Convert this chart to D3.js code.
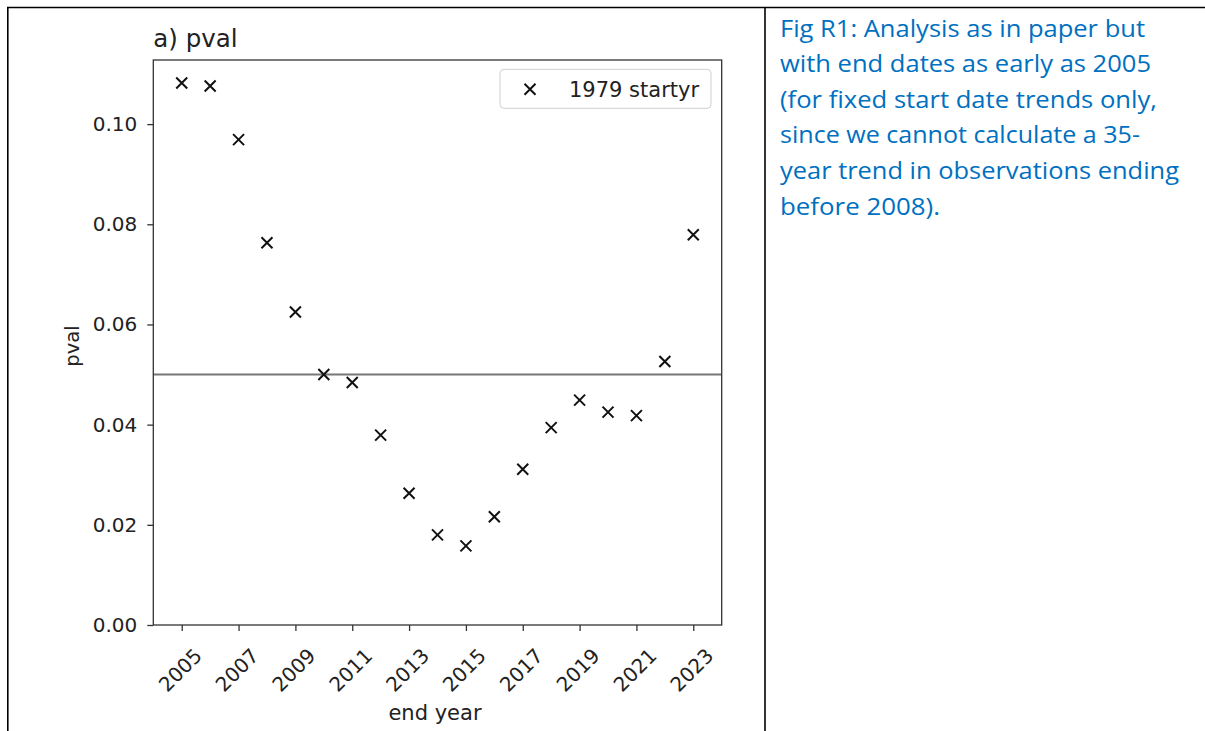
<!DOCTYPE html>
<html>
<head>
<meta charset="utf-8">
<script src="https://cdn.jsdelivr.net/npm/d3@7"></script>
<style>
  body { margin: 0; background: #fff; }
  svg { display: block; }
  .tick text { fill: #222; }
</style>
</head>
<body>
<div id="chart"></div>
<script>
// data
var endYears = [2005, 2006, 2007, 2008, 2009, 2010, 2011, 2012, 2013, 2014,
                2015, 2016, 2017, 2018, 2019, 2020, 2021, 2022, 2023];
var pvals = [0.1082, 0.1076, 0.0969, 0.0763, 0.0625, 0.0500, 0.0484, 0.0379, 0.0263, 0.0180,
             0.0158, 0.0216, 0.0311, 0.0394, 0.0449, 0.0425, 0.0418, 0.0526, 0.0779];
var xTicks = [2005, 2007, 2009, 2011, 2013, 2015, 2017, 2019, 2021, 2023];
var yTicks = [0.00, 0.02, 0.04, 0.06, 0.08, 0.10];
var threshold = 0.05;
var seriesName = "1979 startyr";
var captionLines = [
  "Fig R1: Analysis as in paper but",
  "with end dates as early as 2005",
  "(for fixed start date trends only,",
  "since we cannot calculate a 35-",
  "year trend in observations ending",
  "before 2008)."
];
var captionWidths = [365, 371, 377, 360, 399, 160];

var W = 1205, H = 731;
var margin = { top: 60, right: 483.3, bottom: 106, left: 153.3 },
    width = W - margin.left - margin.right,
    height = H - margin.top - margin.bottom;

var svg = d3.select("#chart").append("svg")
  .attr("width", W)
  .attr("height", H);

// table cell borders
svg.append("line").attr("x1", 7).attr("x2", W).attr("y1", 7.5).attr("y2", 7.5)
  .attr("stroke", "#000").attr("stroke-width", 1.6);
svg.append("line").attr("x1", 7.8).attr("x2", 7.8).attr("y1", 7).attr("y2", H)
  .attr("stroke", "#000").attr("stroke-width", 1.6);
svg.append("line").attr("x1", 765).attr("x2", 765).attr("y1", 7).attr("y2", H)
  .attr("stroke", "#000").attr("stroke-width", 1.6);

var x = d3.scaleLinear().domain([2004, 2024]).range([0, width]);
var y = d3.scaleLinear().domain([0, 0.1128]).range([height, 0]);

var g = svg.append("g")
  .attr("transform", "translate(" + margin.left + "," + margin.top + ")");

var font = "'DejaVu Sans', sans-serif";

// x axis
var xAxis = d3.axisBottom(x).tickValues(xTicks).tickFormat(d3.format("d")).tickSize(6).tickSizeOuter(0);
var gx = g.append("g").attr("transform", "translate(0," + height + ")").call(xAxis);
gx.select(".domain").remove();
gx.selectAll(".tick line").attr("stroke", "#333").attr("stroke-width", 1.3);
gx.selectAll(".tick text")
  .attr("font-family", font).attr("font-size", 20)
  .attr("text-anchor", "middle")
  .attr("x", -2).attr("y", 45).attr("dy", "0.35em")
  .attr("transform", "rotate(-45,-2,45)");

// y axis
var yAxis = d3.axisLeft(y).tickValues(yTicks).tickFormat(d3.format(".2f")).tickSize(6).tickPadding(10).tickSizeOuter(0);
var gy = g.append("g").call(yAxis);
gy.select(".domain").remove();
gy.selectAll(".tick line").attr("stroke", "#333").attr("stroke-width", 1.3);
gy.selectAll(".tick text").attr("font-family", font).attr("font-size", 20);

// significance threshold
g.append("line")
  .attr("x1", 0).attr("x2", width)
  .attr("y1", y(threshold)).attr("y2", y(threshold))
  .attr("stroke", "#777").attr("stroke-width", 2);

// markers
var cross = "M-5.5,-5.5L5.5,5.5M-5.5,5.5L5.5,-5.5";
g.selectAll(".pt")
  .data(endYears)
  .enter()
  .append("path")
  .attr("class", "pt")
  .attr("d", cross)
  .attr("transform", function (d, i) { return "translate(" + x(d) + "," + y(pvals[i]) + ")"; })
  .attr("fill", "none")
  .attr("stroke", "#111")
  .attr("stroke-width", 2);

// frame
g.append("rect").attr("width", width).attr("height", height)
  .attr("fill", "none").attr("stroke", "#333").attr("stroke-width", 1.3);

// legend
var leg = g.append("g").attr("transform", "translate(" + (width - 10.7 - 211) + ",9.3)");
leg.append("rect").attr("width", 211).attr("height", 39).attr("rx", 4)
  .attr("fill", "#fff").attr("fill-opacity", 0.8)
  .attr("stroke", "#d0d0d0").attr("stroke-width", 1);
leg.append("path").attr("d", cross).attr("transform", "translate(30,20)")
  .attr("fill", "none").attr("stroke", "#111").attr("stroke-width", 2);
leg.append("text").attr("x", 69).attr("y", 20).attr("dy", "0.35em")
  .attr("font-family", font).attr("font-size", 21).attr("fill", "#222")
  .text(seriesName);

// title and axis labels
g.append("text").attr("x", 0).attr("y", -13)
  .attr("font-family", font).attr("font-size", 24.5).attr("fill", "#222")
  .text("a) pval");
svg.append("text").attr("x", 435).attr("y", 720).attr("text-anchor", "middle")
  .attr("font-family", font).attr("font-size", 21).attr("fill", "#222")
  .text("end year");
svg.append("text")
  .attr("transform", "translate(79,346) rotate(-90)")
  .attr("text-anchor", "middle")
  .attr("font-family", font).attr("font-size", 19.5).attr("fill", "#222")
  .text("pval");

// caption in the right cell
svg.selectAll(".cap")
  .data(captionLines)
  .enter()
  .append("text")
  .attr("class", "cap")
  .attr("x", 780)
  .attr("y", function (d, i) { return 36.5 + i * 35.6; })
  .attr("font-family", "'Open Sans', sans-serif")
  .attr("font-size", 23)
  .attr("fill", "#0070C0")
  .attr("textLength", function (d, i) { return captionWidths[i]; })
  .attr("lengthAdjust", "spacingAndGlyphs")
  .text(function (d) { return d; });
</script>
</body>
</html>
